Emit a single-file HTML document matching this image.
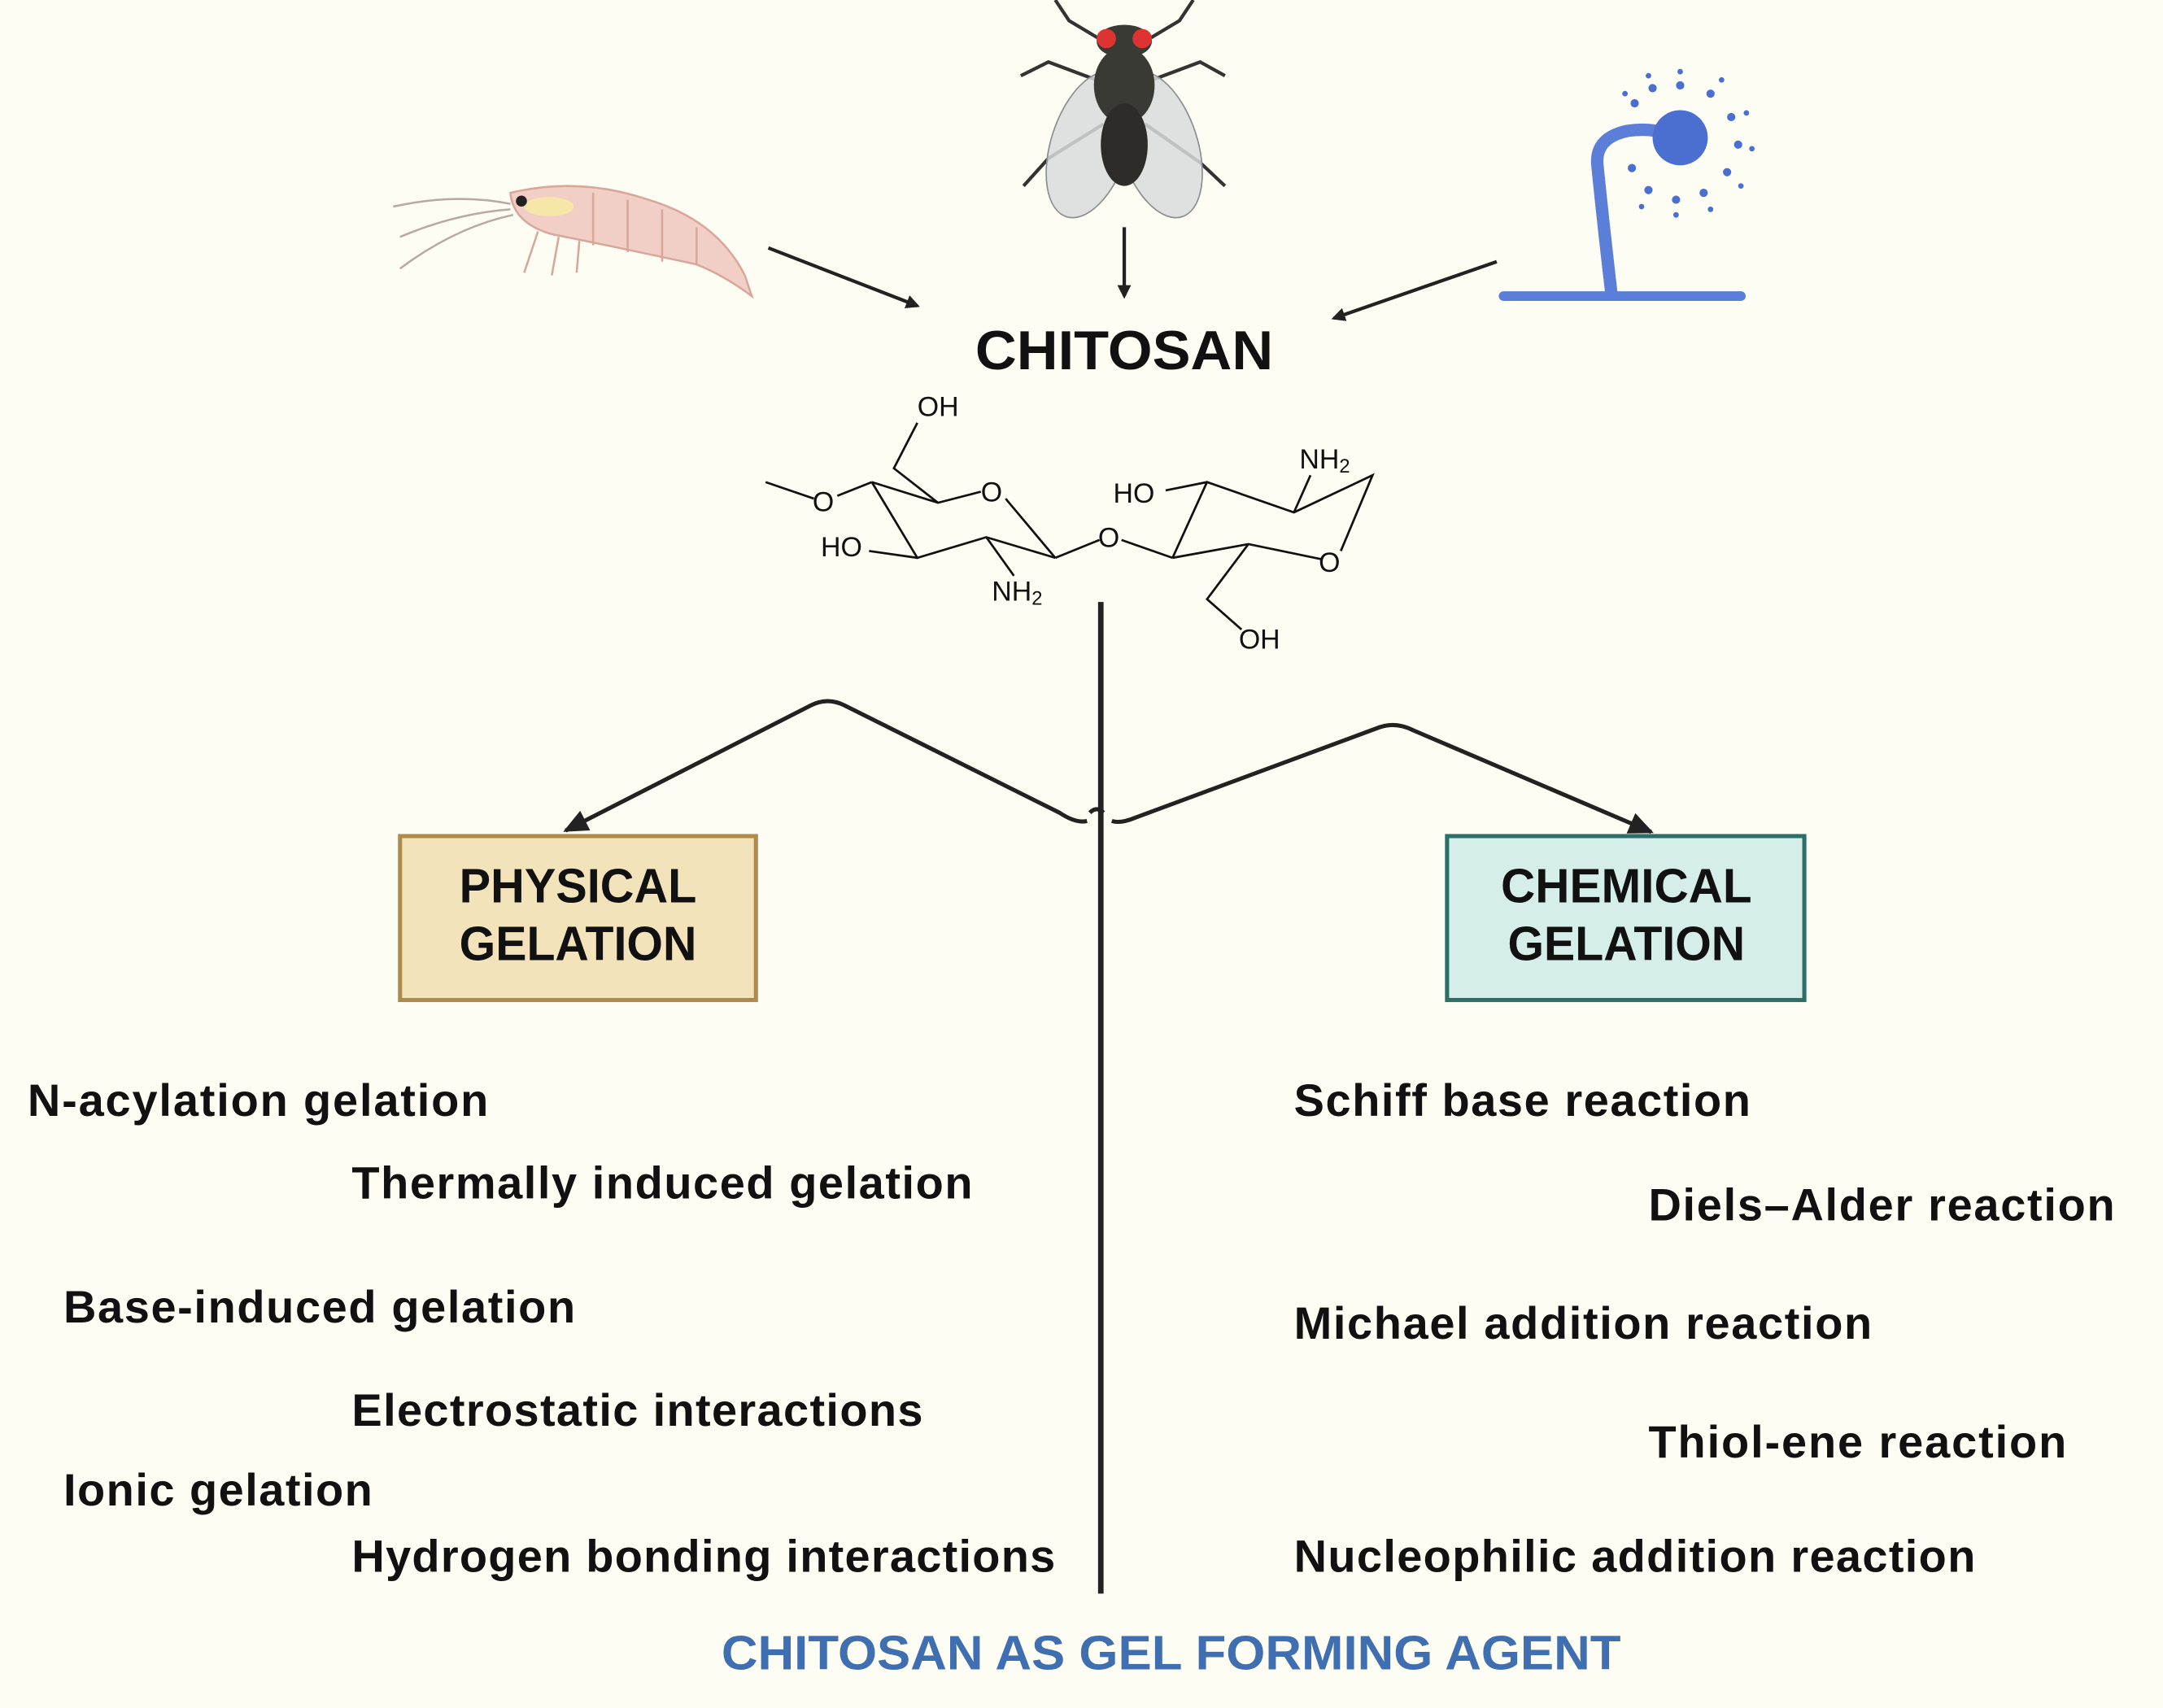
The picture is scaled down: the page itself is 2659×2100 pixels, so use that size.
<!DOCTYPE html>
<html><head><meta charset="utf-8"><style>
html,body{margin:0;padding:0;background:#fefdf4;}
svg{display:block;}
text{font-family:"Liberation Sans",sans-serif;}
</style></head><body>
<svg width="2659" height="2100" viewBox="0 0 1568 1240" preserveAspectRatio="none" xmlns="http://www.w3.org/2000/svg">
<defs>
<marker id="ah" markerWidth="10" markerHeight="10" refX="8" refY="5" orient="auto" markerUnits="userSpaceOnUse" viewBox="0 0 10 10">
<path d="M0,0 L10,5 L0,10 z" fill="#222"/></marker>
<marker id="ah2" markerWidth="18" markerHeight="16" refX="16" refY="8" orient="auto" markerUnits="userSpaceOnUse" viewBox="0 0 18 16">
<path d="M0,0 L18,8 L0,16 z" fill="#222"/></marker>
</defs>
<rect width="1568" height="1240" fill="#fefdf4"/>

<!-- shrimp -->
<g>
<path d="M285,150 Q330,140 370,148" stroke="#b9a9a0" stroke-width="1.5" fill="none"/>
<path d="M290,172 Q330,155 370,152" stroke="#b9a9a0" stroke-width="1.5" fill="none"/>
<path d="M290,195 Q330,165 372,156" stroke="#b9a9a0" stroke-width="1.5" fill="none"/>
<path d="M370,140 Q420,128 470,145 Q520,160 540,200 L545,215 Q525,200 505,192 Q450,180 400,170 Q372,162 370,140 z" fill="#f2cfc6" stroke="#d8a79a" stroke-width="1.5"/>
<ellipse cx="398" cy="150" rx="18" ry="7" fill="#f6e6a8"/>
<circle cx="378" cy="146" r="4" fill="#222"/>
<g stroke="#d8a79a" stroke-width="1.5">
<line x1="430" y1="140" x2="430" y2="178"/><line x1="455" y1="145" x2="455" y2="183"/><line x1="480" y1="152" x2="480" y2="190"/><line x1="505" y1="165" x2="505" y2="192"/>
<line x1="390" y1="168" x2="380" y2="198"/><line x1="405" y1="172" x2="400" y2="200"/><line x1="420" y1="175" x2="418" y2="198"/>
</g>
</g>

<!-- fly -->
<g>
<g stroke="#333" stroke-width="2.5" fill="none">
<path d="M800,60 L760,45 L740,55"/><path d="M800,90 L760,115 L742,135"/><path d="M830,60 L870,45 L888,55"/><path d="M830,90 L870,118 L888,135"/>
<path d="M800,30 L775,15 L765,0"/><path d="M830,30 L855,15 L865,0"/>
</g>
<ellipse cx="790" cy="105" rx="28" ry="55" fill="#d8dcdc" fill-opacity="0.85" stroke="#8a9090" transform="rotate(18 790 105)"/>
<ellipse cx="840" cy="105" rx="28" ry="55" fill="#d8dcdc" fill-opacity="0.85" stroke="#8a9090" transform="rotate(-18 840 105)"/>
<ellipse cx="815" cy="62" rx="22" ry="28" fill="#3a3a34"/>
<ellipse cx="815" cy="105" rx="17" ry="30" fill="#2e2c28"/>
<ellipse cx="815" cy="30" rx="20" ry="12" fill="#3a3a34"/>
<circle cx="802" cy="28" r="7" fill="#d33"/><circle cx="828" cy="28" r="7" fill="#d33"/>
</g>

<!-- fungus -->
<g>
<path d="M1090,215 L1262,215" stroke="#5b7fd8" stroke-width="7" stroke-linecap="round"/>
<path d="M1168,212 Q1162,160 1158,120 Q1156,100 1180,95 Q1200,92 1215,100" stroke="#5b7fd8" stroke-width="9" fill="none" stroke-linecap="round"/>
<circle cx="1218" cy="100" r="20" fill="#4a6fd0"/>
<g fill="#4a6fd0">
<circle cx="1218" cy="62" r="3"/><circle cx="1240" cy="68" r="3"/><circle cx="1255" cy="85" r="3"/><circle cx="1260" cy="105" r="3"/><circle cx="1252" cy="125" r="3"/><circle cx="1235" cy="140" r="3"/><circle cx="1215" cy="145" r="3"/><circle cx="1195" cy="138" r="3"/><circle cx="1183" cy="122" r="3"/><circle cx="1185" cy="75" r="3"/><circle cx="1198" cy="64" r="3"/>
<circle cx="1218" cy="52" r="2"/><circle cx="1248" cy="58" r="2"/><circle cx="1266" cy="82" r="2"/><circle cx="1270" cy="108" r="2"/><circle cx="1262" cy="135" r="2"/><circle cx="1240" cy="152" r="2"/><circle cx="1215" cy="156" r="2"/><circle cx="1190" cy="150" r="2"/><circle cx="1178" cy="68" r="2"/><circle cx="1195" cy="55" r="2"/>
</g>
</g>

<!-- arrows from organisms -->
<line x1="557" y1="180" x2="665" y2="222" stroke="#222" stroke-width="2.5" marker-end="url(#ah)"/>
<line x1="815" y1="165" x2="815" y2="215" stroke="#222" stroke-width="2.5" marker-end="url(#ah)"/>
<line x1="1085" y1="190" x2="967" y2="231" stroke="#222" stroke-width="2.5" marker-end="url(#ah)"/>

<text x="707" y="268" font-size="40" font-weight="bold" textLength="216" lengthAdjust="spacingAndGlyphs" fill="#111">CHITOSAN</text>

<!-- chemical structure -->
<g stroke="#111" stroke-width="1.6" fill="none">
<line x1="555" y1="350" x2="590" y2="362"/><line x1="607" y1="360" x2="632" y2="350"/>
<polyline points="632,350 680,365 711,357"/><line x1="729" y1="362" x2="765" y2="405"/>
<polyline points="765,405 715,390 665,405 632,350"/>
<polyline points="680,365 648,340 665,307"/>
<line x1="715" y1="390" x2="735" y2="418"/>
<line x1="630" y1="400" x2="665" y2="405"/>
<line x1="765" y1="405" x2="797" y2="392"/><line x1="813" y1="392" x2="850" y2="405"/>
<polyline points="850,405 875,350 938,372 995,345 972,400"/>
<polyline points="958,406 905,395 850,405"/>
<line x1="845" y1="356" x2="875" y2="350"/>
<line x1="938" y1="372" x2="950" y2="345"/>
<polyline points="905,395 875,435 900,457"/>
</g>
<g font-size="20" fill="#111">
<text x="665" y="302">OH</text>
<text x="589" y="371">O</text>
<text x="711" y="364">O</text>
<text x="595" y="404">HO</text>
<text x="719" y="436">NH<tspan font-size="14" dy="3">2</tspan></text>
<text x="796" y="397">O</text>
<text x="807" y="365">HO</text>
<text x="942" y="340">NH<tspan font-size="14" dy="3">2</tspan></text>
<text x="956" y="415">O</text>
<text x="898" y="471">OH</text>
</g>

<!-- central line and branches -->
<line x1="798" y1="437" x2="798" y2="1157" stroke="#222" stroke-width="4"/>
<path d="M790,590 Q795,585 800,590" stroke="#222" stroke-width="3" fill="none"/>
<path d="M788,596 Q780,598 768,590 L612,512 Q600,506 588,512 L410,603" stroke="#222" stroke-width="3" fill="none" stroke-linejoin="round" marker-end="url(#ah2)"/>
<path d="M806,596 Q812,598 822,594 L1000,528 Q1012,524 1024,530 L1197,604" stroke="#222" stroke-width="3" fill="none" stroke-linejoin="round" marker-end="url(#ah2)"/>

<!-- boxes -->
<rect x="290" y="607" width="258" height="119" fill="#f3e3bb" stroke="#b08a4a" stroke-width="3"/>
<text x="333" y="655" font-size="35" font-weight="bold" textLength="172" lengthAdjust="spacingAndGlyphs" fill="#111">PHYSICAL</text>
<text x="333" y="697" font-size="35" font-weight="bold" textLength="172" lengthAdjust="spacingAndGlyphs" fill="#111">GELATION</text>
<rect x="1049" y="607" width="259" height="119" fill="#d5eeea" stroke="#2c6e68" stroke-width="3"/>
<text x="1088" y="655" font-size="35" font-weight="bold" textLength="182" lengthAdjust="spacingAndGlyphs" fill="#111">CHEMICAL</text>
<text x="1093" y="697" font-size="35" font-weight="bold" textLength="172" lengthAdjust="spacingAndGlyphs" fill="#111">GELATION</text>

<g font-size="33" font-weight="bold" fill="#111" lengthAdjust="spacingAndGlyphs">
<text x="20" y="810" textLength="334">N-acylation gelation</text>
<text x="255" y="870" textLength="450">Thermally induced gelation</text>
<text x="46" y="960" textLength="371">Base-induced gelation</text>
<text x="255" y="1035" textLength="414">Electrostatic interactions</text>
<text x="46" y="1093" textLength="224">Ionic gelation</text>
<text x="255" y="1141" textLength="510">Hydrogen bonding interactions</text>
<text x="938" y="810" textLength="331">Schiff base reaction</text>
<text x="1195" y="886" textLength="338">Diels–Alder reaction</text>
<text x="938" y="972" textLength="419">Michael addition reaction</text>
<text x="1195" y="1058" textLength="303">Thiol-ene reaction</text>
<text x="938" y="1141" textLength="494">Nucleophilic addition reaction</text>
</g>

<text x="523" y="1212" font-size="35" font-weight="bold" fill="#3f6fb0" textLength="652" lengthAdjust="spacingAndGlyphs">CHITOSAN AS GEL FORMING AGENT</text>
</svg>
</body></html>
